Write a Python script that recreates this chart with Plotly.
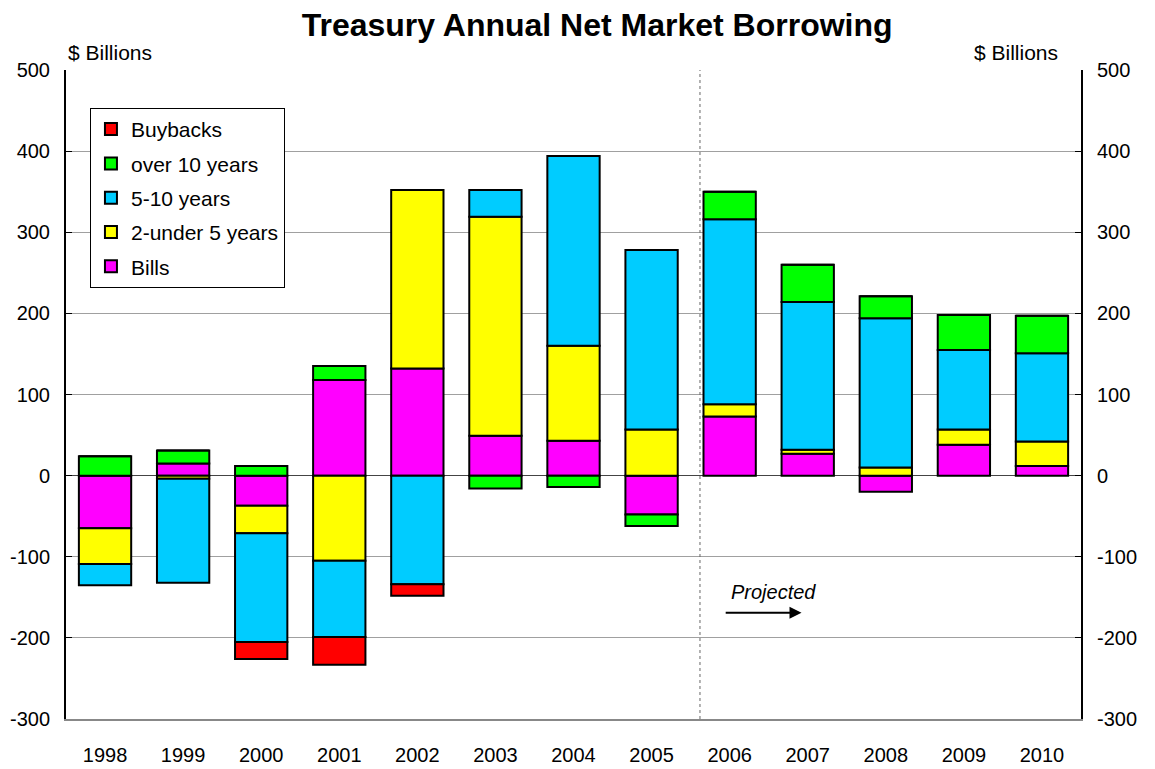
import plotly.graph_objects as go

years = ["1998", "1999", "2000", "2001", "2002", "2003", "2004", "2005", "2006", "2007", "2008", "2009", "2010"]
bills = [-65, 15, -37, 118, 132, 49, 43, -48, 73, 27, -20, 38, 12]
two_to_five = [-44, -4, -34, -105, 220, 270, 117, 57, 15, 5, 10, 19, 30]
five_to_ten = [-26, -128, -134, -94, -134, 33, 234, 221, 228, 182, 184, 98, 109]
over_ten = [24, 16, 12, 17, 0, -16, -14, -14, 34, 46, 27, 43, 46]
buybacks = [0, 0, -21, -34, -14, 0, 0, 0, 0, 0, 0, 0, 0]

y_tickvals = [-300, -200, -100, 0, 100, 200, 300, 400, 500]
y_ticktext = ["-300", "-200", "-100", "0", "100", "200", "300", "400", "500"]

series = [
    ("Bills", bills, "#FF00FF", 5),
    ("2-under 5 years", two_to_five, "#FFFF00", 4),
    ("5-10 years", five_to_ten, "#00CCFF", 3),
    ("over 10 years", over_ten, "#00FF00", 2),
    ("Buybacks", buybacks, "#FF0000", 1),
]

FONT = "Arial, Liberation Sans, sans-serif"

fig = go.Figure()
for name, vals, col, rank in series:
    fig.add_trace(go.Bar(
        x=years, y=vals, name=name, legendgroup=name, legendrank=rank,
        marker=dict(color=col, line=dict(color="black", width=2)),
    ))

# invisible trace for the right axis
fig.add_trace(go.Scatter(x=years, y=[0] * len(years), yaxis="y2", mode="none",
                         showlegend=False, hoverinfo="skip"))

axis_common = dict(range=[-300, 500], tickvals=y_tickvals, ticktext=y_ticktext,
                   showline=True, linecolor="black", linewidth=2,
                   ticks="inside", ticklen=6, tickcolor="black",
                   tickfont=dict(size=20), ticklabelstandoff=10, automargin=False)

fig.update_layout(
    width=1155, height=769,
    barmode="relative",
    bargap=0.33,
    plot_bgcolor="white",
    paper_bgcolor="white",
    margin=dict(l=66, r=74, t=70, b=50, autoexpand=False),
    font=dict(family=FONT, size=20, color="black"),
    title=dict(text="<b>Treasury Annual Net Market Borrowing</b>", x=0.517, xanchor="center",
               y=0.968, yanchor="middle", font=dict(size=32, family=FONT)),
    xaxis=dict(showgrid=False, showline=True, linecolor="#888888", linewidth=2,
               ticks="", tickfont=dict(size=20), zeroline=False, ticklabelstandoff=17,
               automargin=False),
    yaxis=dict(showgrid=True, gridcolor="#a0a0a0", gridwidth=1,
               zeroline=True, zerolinecolor="#444444", zerolinewidth=1, **axis_common),
    yaxis2=dict(overlaying="y", side="right", showgrid=False, zeroline=False, **axis_common),
    legend=dict(x=0.0236, y=0.9415, xanchor="left", yanchor="top", traceorder="grouped",
                tracegroupgap=4, bgcolor="white", bordercolor="black", borderwidth=1,
                font=dict(size=21)),
    showlegend=True,
)

fig.add_shape(type="line", xref="x", yref="paper", x0=7.62, x1=7.62, y0=0, y1=1,
              line=dict(color="#666666", width=1, dash="dot"))

fig.add_annotation(xref="paper", yref="paper", x=0, y=1.0, xanchor="left", yanchor="middle",
                   text="$ Billions", showarrow=False, font=dict(size=21), yshift=18)
fig.add_annotation(xref="paper", yref="paper", x=0.979, y=1.0, xanchor="right", yanchor="middle",
                   text="$ Billions", showarrow=False, font=dict(size=21), yshift=18)

fig.add_annotation(xref="x", yref="y", x=8.56, y=-143, text="<i>Projected</i>", showarrow=False,
                   font=dict(size=20))
fig.add_annotation(xref="x", yref="y", x=8.92, y=-169, ax=7.93, ay=-169, axref="x", ayref="y",
                   text="", showarrow=True, arrowhead=2, arrowsize=1.2, arrowwidth=2,
                   arrowcolor="black")

fig.write_html("out.html", config={"displayModeBar": False},
               post_script="document.body.style.margin='0';")
